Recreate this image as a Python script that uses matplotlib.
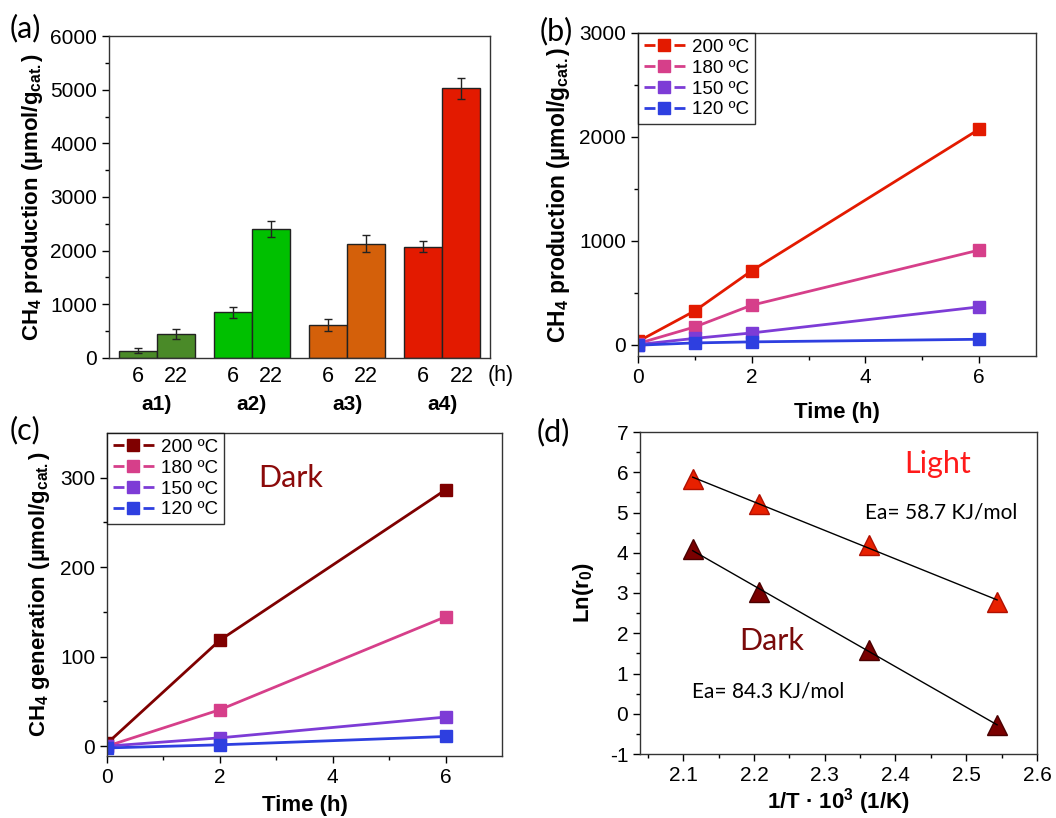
import matplotlib
matplotlib.use("Agg")
import matplotlib.pyplot as plt
from matplotlib.lines import Line2D
import numpy as np

plt.rcParams['font.family'] = ['Liberation Sans', 'DejaVu Sans']
plt.rcParams['mathtext.fontset'] = 'custom'
plt.rcParams['mathtext.rm'] = 'Liberation Sans'
plt.rcParams['mathtext.bf'] = 'Liberation Sans:bold'
plt.rcParams['mathtext.it'] = 'Liberation Sans:italic'

# (a) CH4 production after 6 h and 22 h for each catalyst
groups = ['a1)', 'a2)', 'a3)', 'a4)']
hours = ['6', '22']
prod_6h = [136, 849, 620, 2077]
prod_22h = [453, 2399, 2126, 5022]
err_6h = [52, 102, 112, 95]
err_22h = [93, 152, 160, 195]
bar_colors = ['#4a8a28', '#00c000', '#d4600a', '#e31a00']

# (b) light, time course
temps = ['200 ºC', '180 ºC', '150 ºC', '120 ºC']
time_b = [0, 1, 2, 6]
light_200 = [30, 325, 711, 2074]
light_180 = [10, 170, 379, 910]
light_150 = [0, 60, 112, 363]
light_120 = [-6, 16, 26, 51]
colors_b = ['#e31a00', '#d63f8a', '#7d3cd6', '#2e3fe0']

# (c) dark, time course
time_c = [0, 2, 6]
dark_200 = [3, 118.4, 286.5]
dark_180 = [0, 40.7, 144.6]
dark_150 = [0, 9.3, 32.5]
dark_120 = [-2, 1.5, 10.8]
colors_c = ['#7f0000', '#d63f8a', '#7d3cd6', '#2e3fe0']

# (d) Arrhenius plot
inv_T = [2.1135, 2.2068, 2.3632, 2.5436]
ln_r_light = [5.84, 5.22, 4.19, 2.78]
ln_r_dark = [4.10, 3.03, 1.58, -0.28]

W, H = 1056, 818
fig = plt.figure(figsize=(W / 100, H / 100), dpi=100)


def box(l, r, t, b):
    return [l / W, 1 - b / H, (r - l) / W, (b - t) / H]


def style(ax):
    for s in ax.spines.values():
        s.set_linewidth(1.0)
        s.set_color('#333333')
    ax.tick_params(direction='out', labelsize=15, length=5, width=1)
    ax.tick_params(which='minor', direction='out', length=3, width=1)


def origin_legend(ax, colors):
    # Origin-style handles: short line, gap, square, gap, short line
    handles = [Line2D([], [], color=c, lw=2, linestyle=(0, (3.95, 6.85)),
                      marker='s', ms=8.5) for c in colors]
    leg = ax.legend(handles, temps, loc='upper left', fontsize=13.5, frameon=True,
                    fancybox=False, edgecolor='black', borderaxespad=0,
                    handlelength=2.19, borderpad=0.3, labelspacing=0.2,
                    handletextpad=0.4)
    leg.get_frame().set_linewidth(1)


label_font = dict(fontsize=16, fontweight='bold')
panel_font = dict(fontsize=22, family='Lato')

# ---- (a)
ax = fig.add_axes(box(109, 490, 36, 358))
style(ax)
x = np.arange(1, len(groups) + 1)
bw = 0.4
ax.bar(x - bw / 2, prod_6h, bw, color=bar_colors, edgecolor='#222222', linewidth=1,
       yerr=err_6h, capsize=3, error_kw=dict(elinewidth=1, capthick=1, ecolor='#222222'))
ax.bar(x + bw / 2, prod_22h, bw, color=bar_colors, edgecolor='#222222', linewidth=1,
       yerr=err_22h, capsize=3, error_kw=dict(elinewidth=1, capthick=1, ecolor='#222222'))
ax.set_xlim(0.5, 4.5)
ax.set_ylim(0, 6000)
ax.set_yticks(np.arange(0, 6001, 1000))
ax.set_yticks(np.arange(0, 6001, 500), minor=True)
ax.set_xticks(np.concatenate([x - bw / 2, x + bw / 2]))
ax.set_xticklabels([hours[0]] * 4 + [hours[1]] * 4)
ax.tick_params(axis='x', length=0, labelsize=15.5, pad=6)
ax.text(4.47, -0.053, '(h)', transform=ax.get_xaxis_transform(), fontsize=15.5,
        ha='left', va='center')
for xi, g in zip(x, groups):
    ax.text(xi, -0.145, g, transform=ax.get_xaxis_transform(), ha='center', va='center',
            fontsize=15, fontweight='bold')
ax.set_ylabel(r'CH$_\mathbf{4}$ production (µmol/g$_\mathbf{cat.}$)', labelpad=4, **label_font)
fig.text(10 / W, 1 - 28 / H, '(a)', ha='left', va='center', **panel_font)

# ---- (b)
ax = fig.add_axes(box(638, 1036, 33, 356))
style(ax)
for ys, c, t in zip([light_200, light_180, light_150, light_120], colors_b, temps):
    ax.plot(time_b, ys, '-s', color=c, lw=2, ms=8.5, label=t)
ax.set_xlim(0, 7)
ax.set_ylim(-110, 3000)
ax.set_xticks([0, 2, 4, 6])
ax.set_xticks([1, 3, 5], minor=True)
ax.set_yticks([0, 1000, 2000, 3000])
ax.set_yticks([500, 1500, 2500], minor=True)
ax.set_xlabel('Time (h)', labelpad=11, **label_font)
ax.set_ylabel(r'CH$_\mathbf{4}$ production (µmol/g$_\mathbf{cat.}$)', labelpad=5,
              fontsize=16.5, fontweight='bold')
origin_legend(ax, colors_b)
fig.text(540 / W, 1 - 31 / H, '(b)', ha='left', va='center', **panel_font)

# ---- (c)
ax = fig.add_axes(box(107, 502, 433, 756))
style(ax)
for ys, c, t in zip([dark_200, dark_180, dark_150, dark_120], colors_c, temps):
    ax.plot(time_c, ys, '-s', color=c, lw=2, ms=8.5, label=t)
ax.set_xlim(0, 7)
ax.set_ylim(-11, 350)
ax.set_xticks([0, 2, 4, 6])
ax.set_xticks([1, 3, 5], minor=True)
ax.set_yticks([0, 100, 200, 300])
ax.set_yticks([50, 150, 250], minor=True)
ax.set_xlabel('Time (h)', labelpad=6, **label_font)
ax.set_ylabel(r'CH$_\mathbf{4}$ generation (µmol/g$_\mathbf{cat.}$)', labelpad=6, **label_font)
origin_legend(ax, colors_c)
ax.text(0.465, 0.86, 'Dark', transform=ax.transAxes, color='#8b0a0a', fontsize=22,
        family='Lato', ha='center', va='center')
fig.text(10 / W, 1 - 430 / H, '(c)', ha='left', va='center', **panel_font)

# ---- (d)
ax = fig.add_axes(box(640, 1037, 432, 754))
style(ax)
for ys, c, ec in [(ln_r_light, '#e82000', '#b01000'), (ln_r_dark, '#7a0000', '#4a0000')]:
    k, b0 = np.polyfit(inv_T, ys, 1)
    xx = np.array([inv_T[0], inv_T[-1]])
    ax.plot(inv_T, ys, '^', color=c, mec=ec, ms=14, zorder=2)
    ax.plot(xx, k * xx + b0, '-', color='black', lw=1, zorder=3)
ax.set_xlim(2.039, 2.6)
ax.set_ylim(-1, 7)
ax.set_xticks(np.arange(2.1, 2.61, 0.1))
ax.set_xticks(np.arange(2.05, 2.6, 0.1), minor=True)
ax.set_yticks(np.arange(-1, 8, 1))
ax.set_yticks(np.arange(-0.5, 7, 1), minor=True)
ax.set_xticklabels(['2.1', '2.2', '2.3', '2.4', '2.5', '2.6'])
ax.set_yticklabels(['-1', '0', '1', '2', '3', '4', '5', '6', '7'])
ax.set_xlabel(r'1/T · 10$^\mathbf{3}$ (1/K)', labelpad=1, **label_font)
ax.set_ylabel(r'Ln(r$_\mathbf{0}$)', labelpad=10, **label_font)
ax.text(2.46, 6.2, 'Light', color='#ff1a1a', fontsize=22, family='Lato',
        ha='center', va='center')
ax.text(2.465, 5.0, 'Ea= 58.7 KJ/mol', fontsize=15, family='Lato', ha='center', va='center')
ax.text(2.225, 1.8, 'Dark', color='#7a0a0a', fontsize=22, family='Lato',
        ha='center', va='center')
ax.text(2.22, 0.55, 'Ea= 84.3 KJ/mol', fontsize=15, family='Lato', ha='center', va='center')
fig.text(537 / W, 1 - 432 / H, '(d)', ha='left', va='center', **panel_font)

fig.savefig('out.png', dpi=100)
